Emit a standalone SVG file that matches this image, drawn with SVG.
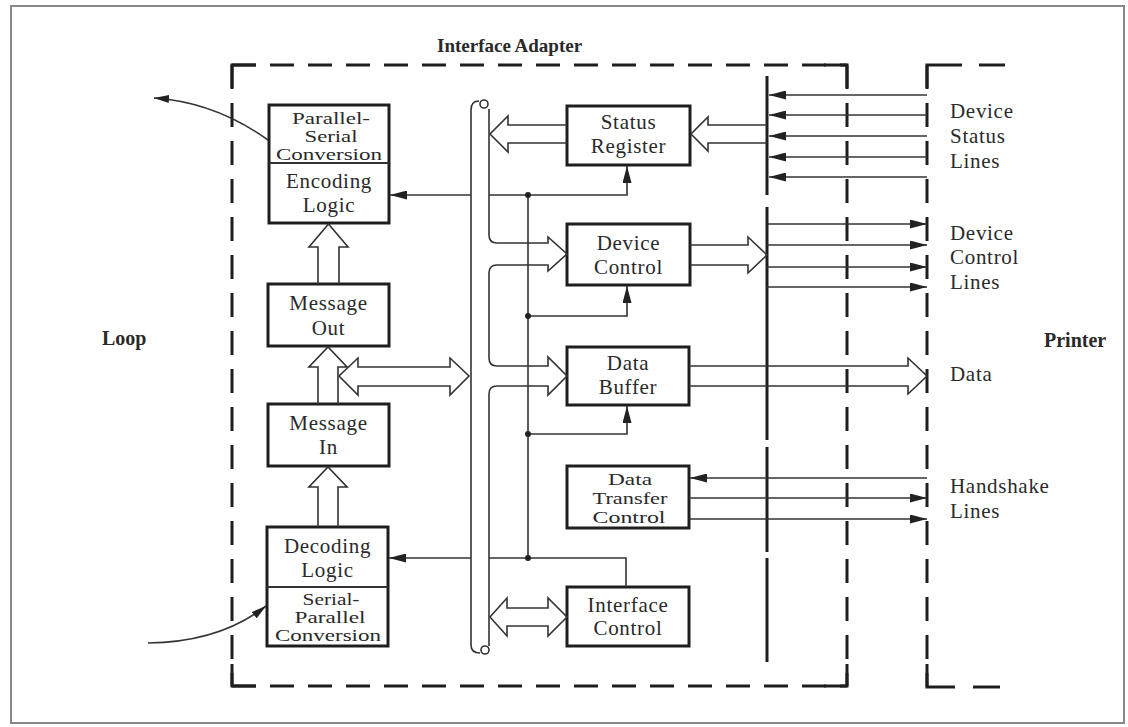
<svg xmlns="http://www.w3.org/2000/svg" width="1128" height="727" viewBox="0 0 1128 727">
<defs>
<style>
.box{fill:#fff;stroke:#1e1e1e;stroke-width:3}
.div{stroke:#333;stroke-width:2;fill:none}
.t{font-family:"Liberation Serif","Times New Roman",serif;font-size:21px;fill:#2a2a2a;text-anchor:middle;letter-spacing:0.7px}
.s{font-size:16px;letter-spacing:0}
.s2{font-size:17px;letter-spacing:0}
.l{text-anchor:start}
.b{font-weight:bold;letter-spacing:0}
.thin{fill:none;stroke:#333;stroke-width:1.6}
.hollow{fill:none;stroke:#333;stroke-width:1.6;stroke-linejoin:miter}
.dash{fill:none;stroke:#1e1e1e;stroke-width:3;stroke-dasharray:24 14}
.solid{fill:none;stroke:#1e1e1e;stroke-width:3}
.dot{fill:#222}
</style>
<marker id="ah" viewBox="0 0 17 9" refX="17" refY="4.5" markerWidth="17" markerHeight="9" markerUnits="userSpaceOnUse" orient="auto">
<path d="M0,0 L17,4.5 L0,9 z" fill="#222"/>
</marker>
<marker id="ahs" viewBox="0 0 15 8" refX="15" refY="4" markerWidth="15" markerHeight="8" markerUnits="userSpaceOnUse" orient="auto">
<path d="M0,0 L15,4 L0,8 z" fill="#222"/>
</marker>
</defs>
<rect x="0" y="0" width="1128" height="727" fill="#fff"/>
<rect x="11" y="6" width="1113" height="717" fill="none" stroke="#888" stroke-width="2"/>

<!-- enclosures -->
<g id="interface-adapter">
<path class="dash" d="M232,65 H847"/>
<path class="dash" d="M232,65 V686"/>
<path class="dash" d="M232,686 H847"/>
<path class="dash" d="M847,65 V686"/>
<path class="solid" d="M232,88 V65 H256"/>
<path class="solid" d="M232,664 V686 H256"/>
<path class="solid" d="M824,65 H847 V88"/>
<path class="solid" d="M824,686 H847 V664"/>
<text class="t b" x="437" y="52" style="text-anchor:start;font-size:19px">Interface Adapter</text>
</g>
<g id="printer">
<path class="dash" d="M927,65 V687"/>
<path class="solid" d="M927,88 V65 H962"/>
<path class="solid" d="M979,65 H1005"/>
<path class="solid" d="M927,664 V687 H955"/>
<path class="solid" d="M973,687 H1000"/>
<text class="t b" x="1044" y="347" style="text-anchor:start;font-size:20px">Printer</text>
</g>
<g id="loop">
<text class="t b" x="102" y="345" style="text-anchor:start;font-size:20px">Loop</text>
</g>
<g id="interface-line">
<path class="solid" d="M767,76 V195 M767,207 V440 M767,447 V552 M767,558 V662"/>
</g>

<!-- nodes -->
<g id="encoding">
<rect class="box" x="269" y="105" width="120" height="118"/>
<line class="div" x1="269" y1="163" x2="389" y2="163"/>
<text class="t s" x="331" y="124" textLength="78" lengthAdjust="spacingAndGlyphs">Parallel-</text>
<text class="t s" x="331" y="142" textLength="53" lengthAdjust="spacingAndGlyphs">Serial</text>
<text class="t s" x="329" y="160" textLength="106" lengthAdjust="spacingAndGlyphs">Conversion</text>
<text class="t" x="329" y="188">Encoding</text>
<text class="t" x="329" y="212">Logic</text>
</g>
<g id="message-out">
<rect class="box" x="268" y="284" width="121" height="62"/>
<text class="t" x="328.5" y="310">Message</text>
<text class="t" x="328.5" y="335">Out</text>
</g>
<g id="message-in">
<rect class="box" x="268" y="404" width="121" height="62"/>
<text class="t" x="328.5" y="430">Message</text>
<text class="t" x="328.5" y="454">In</text>
</g>
<g id="decoding">
<rect class="box" x="267" y="527" width="121" height="119"/>
<line class="div" x1="267" y1="587" x2="388" y2="587"/>
<text class="t" x="327.5" y="553">Decoding</text>
<text class="t" x="327.5" y="577">Logic</text>
<text class="t s" x="331" y="605" textLength="57" lengthAdjust="spacingAndGlyphs">Serial-</text>
<text class="t s" x="330" y="623" textLength="71" lengthAdjust="spacingAndGlyphs">Parallel</text>
<text class="t s" x="328" y="641" textLength="106" lengthAdjust="spacingAndGlyphs">Conversion</text>
</g>
<g id="status-register">
<rect class="box" x="567" y="106" width="123" height="59"/>
<text class="t" x="628.5" y="129">Status</text>
<text class="t" x="628.5" y="153">Register</text>
</g>
<g id="device-control">
<rect class="box" x="567" y="224" width="123" height="61"/>
<text class="t" x="628.5" y="250">Device</text>
<text class="t" x="628.5" y="274">Control</text>
</g>
<g id="data-buffer">
<rect class="box" x="567" y="347" width="122" height="58"/>
<text class="t" x="628" y="370">Data</text>
<text class="t" x="628" y="394">Buffer</text>
</g>
<g id="data-transfer-control">
<rect class="box" x="567" y="466" width="122" height="62"/>
<text class="t s2" x="630" y="485" textLength="44" lengthAdjust="spacingAndGlyphs">Data</text>
<text class="t s2" x="630" y="504" textLength="75" lengthAdjust="spacingAndGlyphs">Transfer</text>
<text class="t s2" x="629" y="523" textLength="73" lengthAdjust="spacingAndGlyphs">Control</text>
</g>
<g id="interface-control">
<rect class="box" x="567" y="587" width="122" height="59"/>
<text class="t" x="628" y="612">Interface</text>
<text class="t" x="628" y="635">Control</text>
</g>
<g id="labels">
<text class="t l" x="950" y="118">Device</text>
<text class="t l" x="950" y="143">Status</text>
<text class="t l" x="950" y="168">Lines</text>
<text class="t l" x="950" y="240">Device</text>
<text class="t l" x="950" y="264">Control</text>
<text class="t l" x="950" y="289">Lines</text>
<text class="t l" x="950" y="381">Data</text>
<text class="t l" x="950" y="493">Handshake</text>
<text class="t l" x="950" y="518">Lines</text>
</g>

<!-- connectors -->
<g id="connectors">
<!-- bus -->
<path class="thin" d="M471,645 V110 Q471,101 479,101"/>
<circle class="thin" cx="484" cy="104" r="4"/>
<path class="thin" d="M471,645 Q471,653 480,653"/>
<circle class="thin" cx="485" cy="650" r="4"/>
<path class="hollow" d="M489,109 V235 Q489,243 497,243 H548 V237 L567,254 L548,271 V265 H497 Q489,265 489,273 V358 Q489,366 497,366 H548 V357 L567,376 L548,395 V386 H497 Q489,386 489,394 V646"/>
<!-- hollow arrows -->
<path class="hollow" d="M318,284 V247 H309 L328.5,224 L348,247 H339 V284"/>
<path class="hollow" d="M318,404 V367 H309 L328,347 L347,367 H338 V404"/>
<path class="hollow" d="M318,527 V487 H309 L328,467 L347,487 H338 V527"/>
<path class="hollow" d="M358,367 H450 V358 L469,376 L450,395 V386 H358 V395 L339,376 L358,358 Z"/>
<path class="hollow" d="M507,608 H548 V598 L567,617 L548,636 V626 H507 V636 L490,617 L507,598 Z"/>
<path class="hollow" d="M567,125 H508 V116 L490,134 L508,152 V143 H567"/>
<path class="hollow" d="M767,125 H708 V117 L691,134 L708,151 V143 H767"/>
<path class="hollow" d="M690,245 H748 V237 L767,255 L748,273 V265 H690"/>
<path class="hollow" d="M689,366 H908 V358 L927,376 L908,394 V386 H689"/>
<!-- control lines -->
<path class="thin" d="M471,195 H390" marker-end="url(#ah)"/>
<path class="thin" d="M489,195 H627 V166" marker-end="url(#ah)"/>
<path class="thin" d="M528,195 V558"/>
<path class="thin" d="M528,316 H627 V286" marker-end="url(#ah)"/>
<path class="thin" d="M528,434 H627 V406" marker-end="url(#ah)"/>
<path class="thin" d="M626,587 V558 H489"/>
<path class="thin" d="M471,558 H389" marker-end="url(#ah)"/>
<circle class="dot" cx="528" cy="195" r="3"/>
<circle class="dot" cx="528" cy="316" r="3"/>
<circle class="dot" cx="528" cy="434" r="3"/>
<circle class="dot" cx="528" cy="558" r="3"/>
<!-- device status lines -->
<path class="thin" d="M927,95 H769" marker-end="url(#ah)"/>
<path class="thin" d="M927,115 H769" marker-end="url(#ah)"/>
<path class="thin" d="M927,136 H769" marker-end="url(#ah)"/>
<path class="thin" d="M927,157 H769" marker-end="url(#ah)"/>
<path class="thin" d="M927,177 H769" marker-end="url(#ah)"/>
<!-- device control lines -->
<path class="thin" d="M767,224 H927" marker-end="url(#ah)"/>
<path class="thin" d="M767,245 H927" marker-end="url(#ah)"/>
<path class="thin" d="M767,267 H927" marker-end="url(#ah)"/>
<path class="thin" d="M767,287 H927" marker-end="url(#ah)"/>
<!-- handshake lines -->
<path class="thin" d="M927,478 H690" marker-end="url(#ah)"/>
<path class="thin" d="M689,498 H927" marker-end="url(#ah)"/>
<path class="thin" d="M689,519 H927" marker-end="url(#ah)"/>
<!-- loop in/out -->
<path class="thin" d="M268,140 Q215,102 154,98" marker-end="url(#ahs)"/>
<path class="thin" d="M148,643 Q220,642 266,606" marker-end="url(#ahs)"/>
</g>
</svg>
